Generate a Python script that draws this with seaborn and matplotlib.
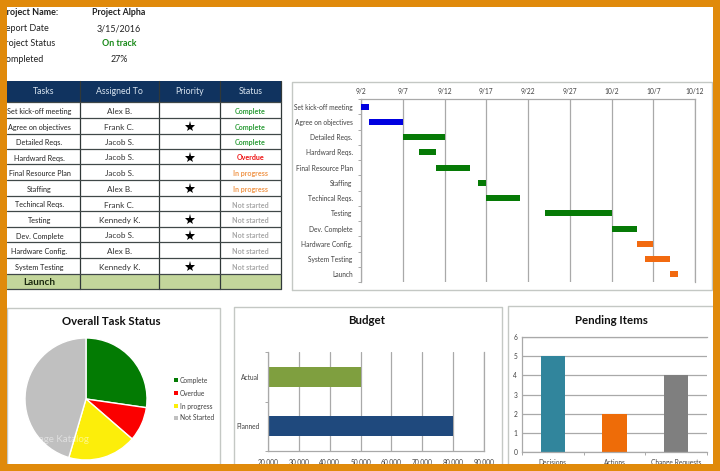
import numpy as np
import pandas as pd
import matplotlib
matplotlib.use("Agg")
import matplotlib.pyplot as plt
import seaborn as sns

W, H = 720, 471

# project summary
summary_labels = ["Project Name:", "Report Date", "Project Status", "Completed"]
summary_values = ["Project Alpha", "3/15/2016", "On track", "27%"]

# task table
table_headers = ["Tasks", "Assigned To", "Priority", "Status"]
tasks = ["Set kick-off meeting", "Agree on objectives", "Detailed Reqs.", "Hardward Reqs.",
         "Final Resource Plan", "Staffing", "Techincal Reqs.", "Testing", "Dev. Complete",
         "Hardware Config.", "System Testing"]
assigned = ["Alex B.", "Frank C.", "Jacob S.", "Jacob S.", "Jacob S.", "Alex B.", "Frank C.",
            "Kennedy K.", "Jacob S.", "Alex B.", "Kennedy K."]
priority = [0, 1, 0, 1, 0, 1, 0, 1, 1, 0, 1]
status = ["Complete", "Complete", "Complete", "Overdue", "In progress", "In progress",
          "Not started", "Not started", "Not started", "Not started", "Not started"]
status_colors = {"Complete": "#2e9e3a", "Overdue": "#ee1111", "In progress": "#f0964a",
                 "Not started": "#a8a8a8"}

# gantt
gantt_tasks = ["Set kick-off meeting", "Agree on objectives", "Detailed Reqs.", "Hardward Reqs.",
               "Final Resource Plan", "Staffing", "Techincal Reqs.", "Testing", "Dev. Complete",
               "Hardware Config.", "System Testing", "Launch"]
gantt_start = ["9/2", "9/3", "9/7", "9/9", "9/11", "9/16", "9/17", "9/24", "10/2", "10/5", "10/6", "10/9"]
gantt_end = ["9/3", "9/7", "9/12", "9/11", "9/15", "9/17", "9/21", "10/2", "10/5", "10/7", "10/9", "10/10"]
gantt_colors = ["#0000e0", "#0000e0"] + ["#067a06"] * 7 + ["#f26a10"] * 3
gantt_ticks = ["9/2", "9/7", "9/12", "9/17", "9/22", "9/27", "10/2", "10/7", "10/12"]

# pie
pie_labels = ["Complete", "Overdue", "In progress", "Not Started"]
pie_values = [3, 1, 2, 5]
pie_colors = ["#037b03", "#fb0000", "#fcee0a", "#c0c0c0"]

# budget
budget_labels = ["Actual", "Planned"]
budget_values = [50000, 80000]
budget_colors = ["#7f9f3f", "#1f497d"]
budget_ticks = [20000, 30000, 40000, 50000, 60000, 70000, 80000, 90000]

# pending items
pending_labels = ["Decisions", "Actions", "Change Requests"]
pending_values = [5, 2, 4]
pending_colors = ["#31859c", "#ee6c08", "#7f7f7f"]
pending_ticks = [0, 1, 2, 3, 4, 5, 6]

FRAME = "#e08a0b"
GRID = "#a9a9a9"
PANEL = "#c4c8c4"
TXT = "#404040"
SMALL = 4.8

sns.set_theme(style="white")
plt.rcParams["font.family"] = ["Lato", "DejaVu Sans"]

fig = plt.figure(figsize=(W / 100, H / 100), dpi=100, facecolor="white")


def px_axes(x0, y0, x1, y1, **kw):
    # axes placed in reference pixels, y measured from the top
    return fig.add_axes([x0 / W, 1 - y1 / H, (x1 - x0) / W, (y1 - y0) / H], **kw)


def to_day(values):
    return (pd.to_datetime(values, format="%m/%d") - pd.Timestamp("1900-09-02")).days.to_numpy()


def boundary_ticks(axis, count):
    # the little marks between categories
    axis.set_ticks(np.arange(count + 1) - 0.5, minor=True)


# background layer in pixel coordinates: summary, table, panels
bg = px_axes(0, 0, W, H)
bg.set_xlim(0, W)
bg.set_ylim(H, 0)
bg.axis("off")

for (x0, y0, x1, y1) in [(292, 82, 712, 290), (7, 308, 220, 470), (234, 307, 502, 470), (508, 306, 720, 470)]:
    bg.plot([x0, x0, x1, x1, x0], [y1, y0, y0, y1, y1], color=PANEL, lw=1)

summary_y = [12.5, 28.5, 44, 59.5]
summary_end = [58, 49, 55, 43.5]
for i, y in enumerate(summary_y):
    bold = i == 0
    bg.text(summary_end[i], y, summary_labels[i], ha="right", va="center", fontsize=6.5,
            color="#222222", fontweight="bold" if bold else "normal")
    col = "#1a8a1a" if i == 2 else "#222222"
    bg.text(119, y, summary_values[i], ha="center", va="center", fontsize=6.4, color=col,
            fontweight="bold" if i in (0, 2) else "normal")

col_x = [7, 79.5, 159, 220, 281]
row_y = [102, 118, 133.5, 149, 164, 180, 196, 211, 227, 242, 258, 273.5, 289]

bg.fill_between([col_x[0], col_x[-1]], 81, 102, color="#10335f", lw=0)
bg.fill_between([col_x[0], col_x[-1]], row_y[-2], row_y[-1], color="#c3d69b", lw=0)
for j, head in enumerate(table_headers):
    bg.text((col_x[j] + col_x[j + 1]) / 2, 92, head, ha="center", va="center", fontsize=6.3, color="#d8e4f0")
for x in col_x[1:]:
    bg.plot([x, x], [81, 289], color="#303838", lw=0.9)
for y in row_y:
    bg.plot([col_x[0], col_x[-1]], [y, y], color="#404848", lw=0.9)
for i, task in enumerate(tasks):
    y = (row_y[i] + row_y[i + 1]) / 2 + 1.5
    bg.text(39.5, y, task, ha="center", va="center", fontsize=5.2, color="#222222")
    bg.text((col_x[1] + col_x[2]) / 2, y, assigned[i], ha="center", va="center", fontsize=5.9, color="#333333")
    bg.text((col_x[3] + col_x[4]) / 2, y, status[i], ha="center", va="center", fontsize=5.1,
            color=status_colors[status[i]], fontweight="bold")
    if priority[i]:
        bg.plot((col_x[2] + col_x[3]) / 2, y - 0.5, marker="*", ms=8, color="black", mew=0)
bg.text(39.5, (row_y[-2] + row_y[-1]) / 2 + 1, "Launch", ha="center", va="center",
        fontsize=7.2, color="#1c2a10", fontweight="bold")

# gantt chart
ax = px_axes(361, 99, 695, 282)
ax.patch.set_alpha(0)
starts = to_day(gantt_start)
spans = to_day(gantt_end) - starts
sns.barplot(x=spans, y=gantt_tasks, left=starts, color="gray", width=0.4, errorbar=None, ax=ax)
for patch, c in zip(ax.patches, gantt_colors):
    patch.set_facecolor(c)
    patch.set_edgecolor("none")
    patch.set_zorder(3)
ax.set_xlim(0, 40)
ax.set_ylim(len(gantt_tasks) - 0.5, -0.5)
ax.xaxis.tick_top()
ax.set_xticks(to_day(gantt_ticks), gantt_ticks)
ax.xaxis.grid(True, color=GRID, lw=0.9)
boundary_ticks(ax.yaxis, len(gantt_tasks))
ax.tick_params(axis="x", length=0, labelsize=SMALL, labelcolor=TXT, pad=3)
ax.tick_params(axis="y", which="major", length=0, labelsize=SMALL, labelcolor=TXT, pad=6)
ax.tick_params(axis="y", which="minor", left=True, length=2, width=0.7, color=GRID)
ax.set_xlabel("")
ax.set_ylabel("")
sns.despine(ax=ax, left=False, top=False, right=False, bottom=True)
for side in ["top", "left", "right"]:
    ax.spines[side].set_color(GRID)
    ax.spines[side].set_linewidth(0.9)

# pie chart
pie_ax = px_axes(25, 338, 147, 460)
pie_ax.pie(pie_values, colors=pie_colors, startangle=90, counterclock=False, radius=1)
pie_ax.set_xlim(-1, 1)
pie_ax.set_ylim(-1, 1)
bg.text(111, 321.5, "Overall Task Status", ha="center", va="center", fontsize=8.2, fontweight="bold", color="#111111")
for name, c, y in zip(pie_labels, pie_colors, [380, 393, 406, 418]):
    bg.plot(176, y, marker="s", ms=2.6, color=c, mew=0)
    bg.text(180, y, name, ha="left", va="center", fontsize=SMALL, color=TXT)
fig.text(55 / W, 1 - 439 / H, "Vintage Katalog", ha="center", va="center", fontsize=7,
         color="white", alpha=0.5, zorder=6)

# budget chart
bud = px_axes(268, 352, 484, 451)
bud.patch.set_alpha(0)
sns.barplot(x=budget_values, y=budget_labels, hue=budget_labels, palette=budget_colors,
            width=0.4, errorbar=None, legend=False, ax=bud, saturation=1, linewidth=0)
bud.set_xlim(20000, 90000)
bud.set_xticks(budget_ticks, [f"{v:,}" for v in budget_ticks])
bud.xaxis.grid(True, color=GRID, lw=0.9)
bud.set_axisbelow(True)
boundary_ticks(bud.yaxis, len(budget_labels))
bud.tick_params(axis="x", length=0, labelsize=SMALL, labelcolor=TXT, pad=6)
bud.tick_params(axis="y", which="major", length=0, labelsize=SMALL, labelcolor=TXT, pad=6)
bud.tick_params(axis="y", which="minor", left=True, length=2, width=0.7, color=GRID)
bud.set_xlabel("")
bud.set_ylabel("")
sns.despine(ax=bud, right=False, top=True, bottom=False)
for side in ["left", "bottom", "right"]:
    bud.spines[side].set_color(GRID)
    bud.spines[side].set_linewidth(0.9)
bg.text(367, 321, "Budget", ha="center", va="center", fontsize=8.3, fontweight="bold", color="#111111")

# pending items chart
pen = px_axes(522, 336.7, 707, 452.3)
pen.patch.set_alpha(0)
sns.barplot(x=pending_labels, y=pending_values, hue=pending_labels, palette=pending_colors,
            width=0.39, errorbar=None, legend=False, ax=pen, saturation=1, linewidth=0)
pen.set_ylim(0, 6)
pen.set_yticks(pending_ticks)
pen.yaxis.grid(True, color=GRID, lw=0.9)
pen.set_axisbelow(True)
boundary_ticks(pen.xaxis, len(pending_labels))
pen.tick_params(axis="both", which="major", length=0, labelsize=SMALL, labelcolor=TXT)
pen.tick_params(axis="x", which="major", pad=5)
pen.tick_params(axis="x", which="minor", bottom=True, length=2, width=0.7, color=GRID)
pen.set_xlabel("")
pen.set_ylabel("")
sns.despine(ax=pen, right=True, top=False)
for side in ["left", "bottom", "top"]:
    pen.spines[side].set_color(GRID)
    pen.spines[side].set_linewidth(0.9)
bg.text(611, 320.5, "Pending Items", ha="center", va="center", fontsize=8.3, fontweight="bold", color="#111111")

# orange frame on top of everything
fr = px_axes(0, 0, W, H)
fr.set_xlim(0, W)
fr.set_ylim(H, 0)
fr.axis("off")
fr.patch.set_alpha(0)
fr.set_zorder(10)
fr.fill_between([0, W], 0, 7, color=FRAME, lw=0)
fr.fill_between([0, W], 464, H, color=FRAME, lw=0)
fr.fill_between([0, 7], 0, H, color=FRAME, lw=0)
fr.fill_between([713, W], 0, H, color=FRAME, lw=0)

fig.savefig("out.png", dpi=100)
